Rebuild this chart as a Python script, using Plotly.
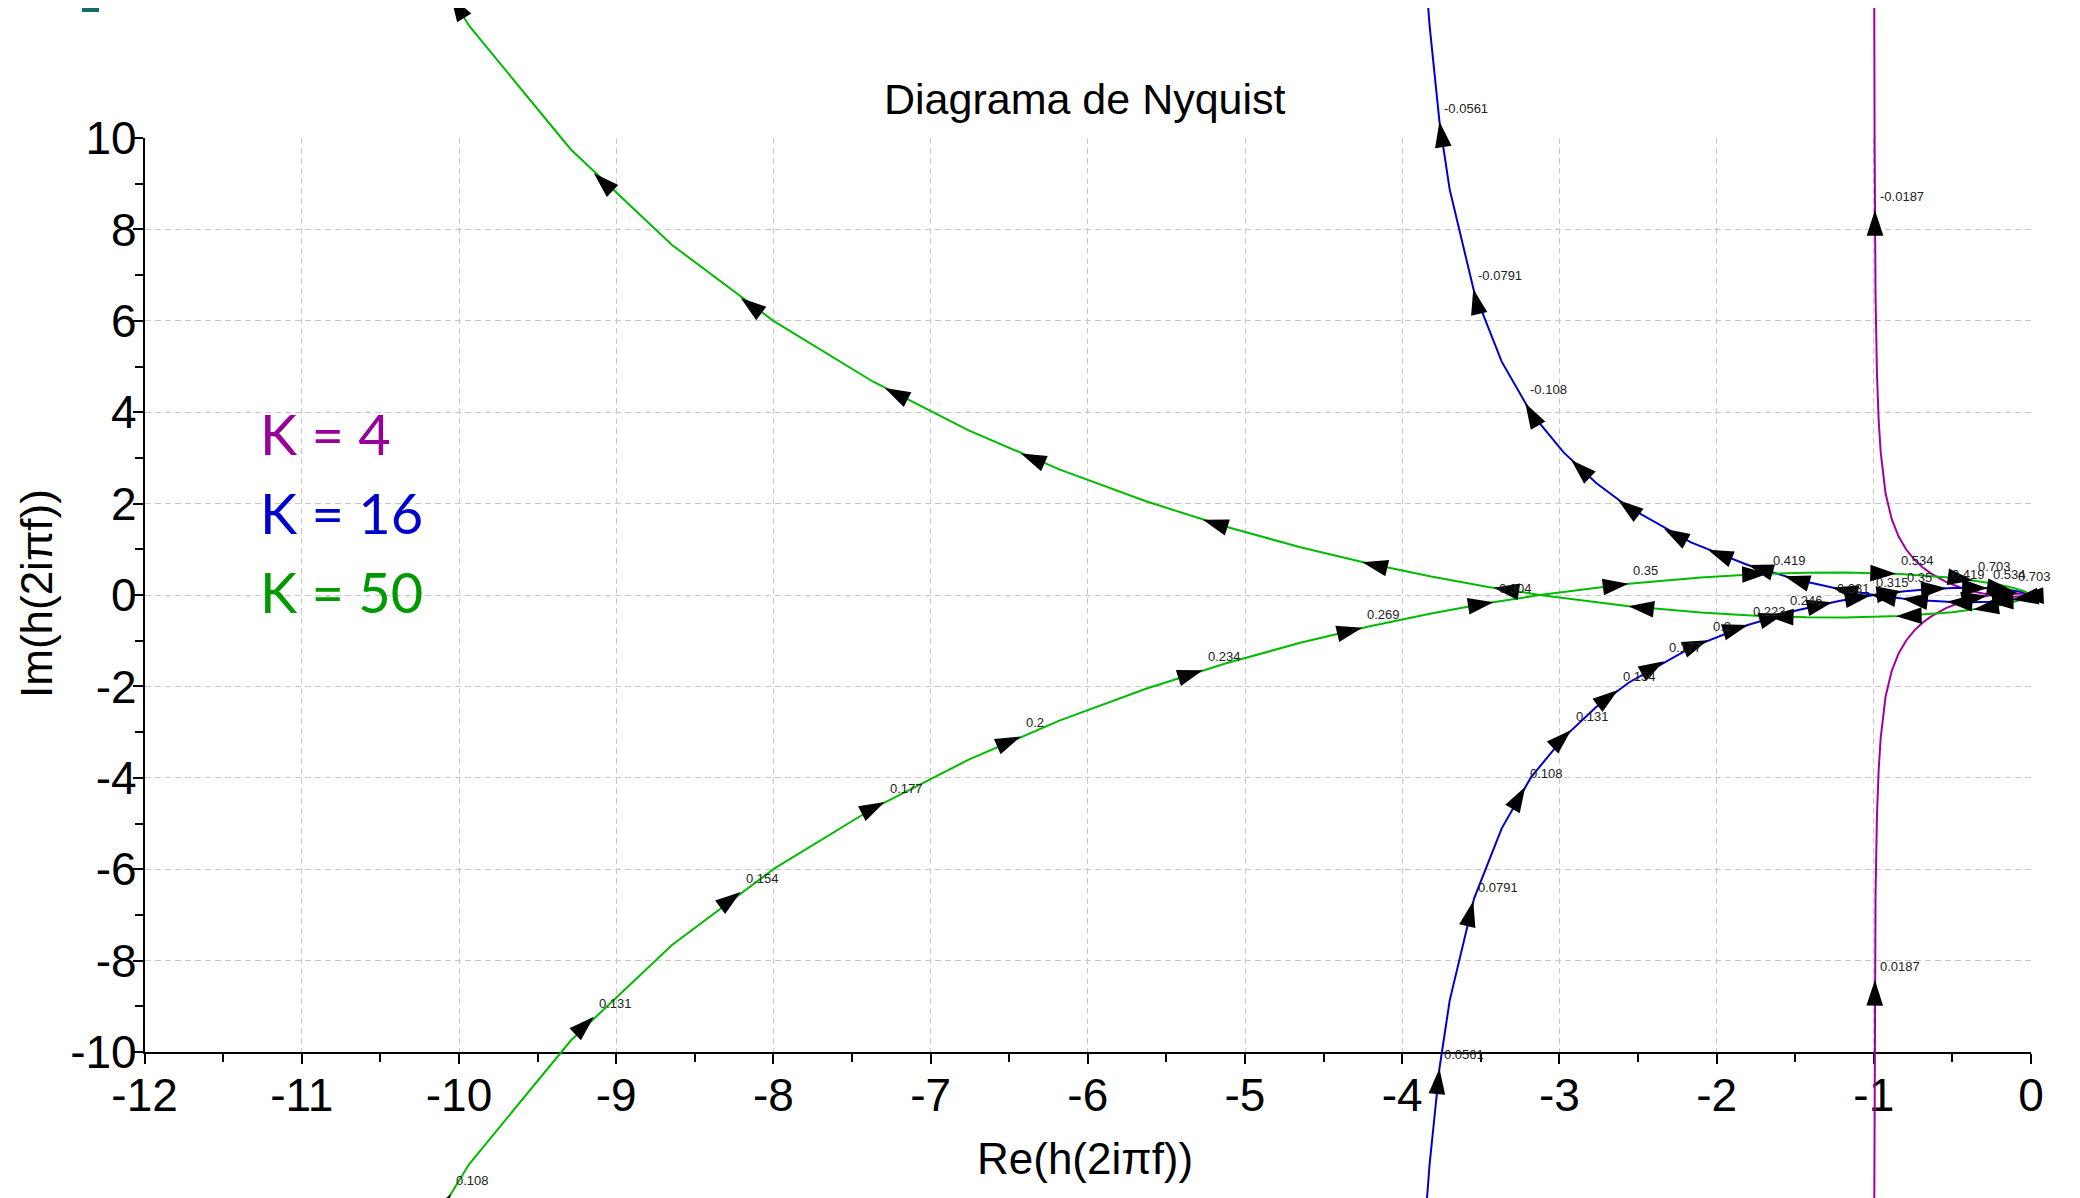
import math
import plotly.graph_objects as go

# ---------------- data ----------------
# Each curve: upper branch (f<0, from origin outward) and lower branch (f>0, from far to origin)
K4_UP_RE = [0.0, -0.002, -0.010, -0.040, -0.095, -0.168, -0.250, -0.305, -0.372, -0.450, -0.541, -0.640,
            -0.692, -0.743, -0.795, -0.842, -0.886, -0.925, -0.956, -0.969, -0.980, -0.989, -0.995, -0.998]
K4_UP_IM = [0.0, -0.004, -0.013, -0.030, -0.039, -0.031, 0.000, 0.032, 0.084, 0.164, 0.288, 0.480,
            0.613, 0.780, 1.000, 1.280, 1.660, 2.220, 3.120, 3.820, 4.850, 6.560, 9.930, 14.230]
K4_LO_RE = [-0.998, -0.995, -0.989, -0.980, -0.969, -0.956, -0.925, -0.886, -0.842, -0.795, -0.743, -0.692,
            -0.640, -0.541, -0.450, -0.372, -0.305, -0.250, -0.168, -0.095, -0.040, -0.010, -0.002, 0.0]
K4_LO_IM = [-14.230, -9.930, -6.560, -4.850, -3.820, -3.120, -2.220, -1.660, -1.280, -1.000, -0.780, -0.613,
            -0.480, -0.288, -0.164, -0.084, -0.032, 0.000, 0.031, 0.039, 0.030, 0.013, 0.004, 0.0]

K16_UP_RE = [0.0, -0.003, -0.014, -0.040, -0.076, -0.160, -0.264, -0.379, -0.502, -0.672, -0.819, -1.000,
             -1.221, -1.487, -1.802, -2.163, -2.560, -2.766, -2.973, -3.180, -3.367, -3.543, -3.698, -3.763,
             -3.826, -3.848]
K16_UP_IM = [0.0, -0.009, -0.026, -0.053, -0.080, -0.120, -0.147, -0.158, -0.153, -0.123, -0.078, 0.000,
             0.129, 0.335, 0.656, 1.153, 1.920, 2.451, 3.121, 3.986, 5.106, 6.644, 8.876, 10.360,
             12.470, 13.470]
K16_LO_RE = [-3.848, -3.826, -3.763, -3.698, -3.543, -3.367, -3.180, -2.973, -2.766, -2.560, -2.163, -1.802,
             -1.487, -1.221, -1.000, -0.819, -0.672, -0.502, -0.379, -0.264, -0.160, -0.076, -0.040, -0.014,
             -0.003, 0.0]
K16_LO_IM = [-13.470, -12.470, -10.360, -8.876, -6.644, -5.106, -3.986, -3.121, -2.451, -1.920, -1.153, -0.656,
             -0.335, -0.129, 0.000, 0.078, 0.123, 0.153, 0.158, 0.147, 0.120, 0.080, 0.053, 0.026,
             0.009, 0.0]

K50_UP_RE = [0.0, -0.009, -0.043, -0.125, -0.238, -0.500, -0.826, -1.183, -1.427, -1.727, -2.100, -2.559,
             -3.125, -3.453, -3.816, -4.213, -4.648, -5.120, -5.630, -6.177, -6.758, -7.368, -8.000, -8.645,
             -9.290, -9.936, -10.286]
K50_UP_IM = [0.0, -0.027, -0.081, -0.167, -0.250, -0.375, -0.459, -0.493, -0.489, -0.458, -0.385, -0.244,
             0.000, 0.177, 0.403, 0.688, 1.046, 1.493, 2.051, 2.744, 3.604, 4.672, 6.000, 7.660,
             9.754, 12.456, 14.426]
K50_LO_RE = [-10.286, -9.936, -9.290, -8.645, -8.000, -7.368, -6.758, -6.177, -5.630, -5.120, -4.648, -4.213,
             -3.816, -3.453, -3.125, -2.559, -2.100, -1.727, -1.427, -1.183, -0.826, -0.500, -0.238, -0.125,
             -0.043, -0.009, 0.0]
K50_LO_IM = [-14.426, -12.456, -9.754, -7.660, -6.000, -4.672, -3.604, -2.744, -2.051, -1.493, -1.046, -0.688,
             -0.403, -0.177, 0.000, 0.244, 0.385, 0.458, 0.489, 0.493, 0.459, 0.375, 0.250, 0.167,
             0.081, 0.027, 0.0]

# arrow tips (frequency marks)
K4_ARROW_RE = [-0.993, -0.280, -0.083, -0.993, -0.280, -0.083]
K4_ARROW_IM = [8.423, 0.017, -0.039, -8.423, -0.017, 0.039]
K16_ARROW_RE = [-3.763, -3.548, -3.217, -2.925, -2.627, -2.334, -2.056, -1.800, -1.568, -1.263, -1.021, -0.820,
                -0.536, -0.275, -0.117,
                -3.763, -3.548, -3.217, -2.925, -2.627, -2.334, -2.056, -1.800, -1.568, -1.263, -1.021, -0.820,
                -0.536, -0.275, -0.117]
K16_ARROW_IM = [10.360, 6.698, 4.195, 2.953, 2.079, 1.449, 0.990, 0.654, 0.409, 0.158, 0.011, -0.078,
                -0.149, -0.149, -0.102,
                -10.360, -6.698, -4.195, -2.953, -2.079, -1.449, -0.990, -0.654, -0.409, -0.158, -0.011, 0.078,
                0.149, 0.149, 0.102]
K50_ARROW_RE = [-10.052, -9.142, -8.208, -7.292, -6.426, -5.268, -4.254, -3.419, -2.561, -1.674, -0.859, -0.367,
                -10.052, -9.142, -8.208, -7.292, -6.426, -5.268, -4.254, -3.419, -2.561, -1.674, -0.859, -0.367]
K50_ARROW_IM = [13.108, 9.227, 6.497, 4.529, 3.095, 1.647, 0.719, 0.157, -0.244, -0.466, -0.465, -0.320,
                -13.108, -9.227, -6.497, -4.529, -3.095, -1.647, -0.719, -0.157, 0.244, 0.466, 0.465, 0.320]

# frequency labels
LABEL_TEXT = ["-0.0187", "0.0187",
              "-0.0561", "-0.0791", "-0.108",
              "0.0561", "0.0791", "0.108", "0.131", "0.154", "0.177", "0.2", "0.223", "0.246", "0.281",
              "0.315", "0.35", "0.419", "0.534", "0.703",
              "0.108", "0.131", "0.154", "0.177", "0.2", "0.234", "0.269", "0.304", "0.35", "0.419",
              "0.534", "0.703"]
LABEL_RE = [-0.993, -0.993,
            -3.763, -3.548, -3.217,
            -3.763, -3.548, -3.217, -2.925, -2.627, -2.334, -2.056, -1.800, -1.568, -1.263,
            -1.021, -0.820, -0.536, -0.275, -0.117,
            -10.052, -9.142, -8.208, -7.292, -6.426, -5.268, -4.254, -3.419, -2.561, -1.674,
            -0.859, -0.367]
LABEL_IM = [8.423, -8.423,
            10.360, 6.698, 4.195,
            -10.360, -6.698, -4.195, -2.953, -2.079, -1.449, -0.990, -0.654, -0.409, -0.158,
            -0.011, 0.078, 0.149, 0.149, 0.102,
            -13.108, -9.227, -6.497, -4.529, -3.095, -1.647, -0.719, -0.157, 0.244, 0.466,
            0.465, 0.320]

X_TICKS = [-12, -11, -10, -9, -8, -7, -6, -5, -4, -3, -2, -1, 0]
X_TICK_TEXT = ["-12", "-11", "-10", "-9", "-8", "-7", "-6", "-5", "-4", "-3", "-2", "-1", "0"]
Y_TICKS = [-10, -8, -6, -4, -2, 0, 2, 4, 6, 8, 10]
Y_TICK_TEXT = ["-10", "-8", "-6", "-4", "-2", "0", "2", "4", "6", "8", "10"]

LEGEND_TEXT = ["K = 4", "K = 16", "K = 50"]

# ---------------- styling / layout geometry ----------------
# the page body has an 8px margin, so the figure is 8px smaller than the window
OFF = 8
W, H = 2080 - OFF, 1198 - OFF
X0_PX, X1_PX = 144.6 - OFF, 2031.0 - OFF      # pixel of x=-12 and x=0
YT_PX, YB_PX = 138.0 - OFF, 1052.0 - OFF      # pixel of y=10 and y=-10
SX = (X1_PX - X0_PX) / 12.0
SY = (YB_PX - YT_PX) / 20.0
FULL_X = [-12 - X0_PX / SX, (W - X1_PX) / SX]
FULL_Y = [-10 - (H - YB_PX) / SY, 10 + YT_PX / SY]

LINE_COLORS = ["#A000A0", "#0000CC", "#00BB00"]
TEXT_COLORS = ["#990099", "#0000CC", "#009900"]
FONT = "Liberation Sans, Arial, sans-serif"


def px_x(p):
    return (p - OFF) / W


def px_y(p):
    return 1 - (p - OFF) / H


def arrow_angles(branches, tre, tim):
    angs = []
    for tx, ty in zip(tre, tim):
        px, py = tx * SX, ty * SY
        best = None
        for bre, bim in branches:
            for k in range(len(bre) - 1):
                ax_, ay_ = bre[k] * SX, bim[k] * SY
                bx_, by_ = bre[k + 1] * SX, bim[k + 1] * SY
                dx, dy = bx_ - ax_, by_ - ay_
                l2 = dx * dx + dy * dy
                if l2 == 0:
                    continue
                t = max(0.0, min(1.0, ((px - ax_) * dx + (py - ay_) * dy) / l2))
                d = math.hypot(ax_ + t * dx - px, ay_ + t * dy - py)
                if best is None or d < best[0]:
                    best = (d, dx, dy)
        angs.append(math.degrees(math.atan2(best[1], best[2])))
    return angs


fig = go.Figure()
# anchor trace for the framed axes
fig.add_trace(go.Scatter(x=[], y=[], xaxis="x", yaxis="y", showlegend=False, hoverinfo="skip"))

curves = [
    (K4_UP_RE, K4_UP_IM, K4_LO_RE, K4_LO_IM, K4_ARROW_RE, K4_ARROW_IM),
    (K16_UP_RE, K16_UP_IM, K16_LO_RE, K16_LO_IM, K16_ARROW_RE, K16_ARROW_IM),
    (K50_UP_RE, K50_UP_IM, K50_LO_RE, K50_LO_IM, K50_ARROW_RE, K50_ARROW_IM),
]
for i, (ure, uim, lre, lim, are, aim) in enumerate(curves):
    fig.add_trace(go.Scatter(
        x=ure + [None] + lre, y=uim + [None] + lim, mode="lines",
        line=dict(color=LINE_COLORS[i], width=2), xaxis="x2", yaxis="y2",
        showlegend=False, hoverinfo="skip"))
for i, (ure, uim, lre, lim, are, aim) in enumerate(curves):
    angs = arrow_angles([(ure, uim), (lre, lim)], are, aim)
    fig.add_trace(go.Scatter(
        x=are, y=aim, mode="markers",
        marker=dict(symbol="arrow", size=27, color="black", angle=angs, line=dict(width=0)),
        xaxis="x2", yaxis="y2", showlegend=False, hoverinfo="skip"))

annotations = []
for t, x, y in zip(LABEL_TEXT, LABEL_RE, LABEL_IM):
    annotations.append(dict(text=t, x=x, y=y, xref="x2", yref="y2", xanchor="left", yanchor="bottom",
                            xshift=3, yshift=4, showarrow=False,
                            font=dict(family=FONT, size=13, color="#222222")))

annotations.append(dict(text="Diagrama de Nyquist", x=px_x(1085), y=px_y(99.5), xref="paper", yref="paper",
                        xanchor="center", yanchor="middle", showarrow=False,
                        font=dict(family=FONT, size=43, color="black")))
annotations.append(dict(text="Re(h(2iπf))", x=px_x(1085), y=px_y(1158), xref="paper", yref="paper",
                        xanchor="center", yanchor="middle", showarrow=False,
                        font=dict(family=FONT, size=44, color="black")))
annotations.append(dict(text="Im(h(2iπf))", x=px_x(36), y=px_y(594), xref="paper", yref="paper",
                        xanchor="center", yanchor="middle", showarrow=False, textangle=-90,
                        font=dict(family=FONT, size=44, color="black")))
LEG_Y = [433, 512, 591]
for txt, yy, col in zip(LEGEND_TEXT, LEG_Y, TEXT_COLORS):
    annotations.append(dict(text=txt, x=px_x(258), y=px_y(yy), xref="paper", yref="paper",
                            xanchor="left", yanchor="middle", showarrow=False,
                            font=dict(family="Lato, sans-serif", size=56, color=col)))

grid = dict(showgrid=True, gridcolor="#C8C8C8", gridwidth=1, griddash="6px,4px")
fig.update_layout(
    width=W, height=H, margin=dict(l=0, r=0, t=0, b=0, pad=0, autoexpand=False),
    paper_bgcolor="white", plot_bgcolor="rgba(0,0,0,0)",
    showlegend=False,
    xaxis=dict(domain=[X0_PX / W, X1_PX / W], range=[-12, 0], anchor="y", automargin=False,
               tickmode="array", tickvals=X_TICKS, ticktext=X_TICK_TEXT,
               ticks="outside", ticklen=10, tickwidth=1.5, tickcolor="black", ticklabelstandoff=-8,
               showline=True, linecolor="black", linewidth=1.5, zeroline=False,
               tickfont=dict(family=FONT, size=46, color="black"),
               minor=dict(tickvals=[v + 0.5 for v in X_TICKS[:-1]], ticks="outside", ticklen=8,
                          tickwidth=1.5, tickcolor="black", showgrid=False),
               fixedrange=True, **grid),
    yaxis=dict(domain=[(H - YB_PX) / H, (H - YT_PX) / H], range=[-10, 10], anchor="x", automargin=False,
               tickmode="array", tickvals=Y_TICKS, ticktext=Y_TICK_TEXT,
               ticks="outside", ticklen=10, tickwidth=1.5, tickcolor="black", ticklabelstandoff=-13,
               showline=True, linecolor="black", linewidth=1.5, zeroline=False,
               tickfont=dict(family=FONT, size=46, color="black"),
               minor=dict(tickvals=[v + 1 for v in Y_TICKS[:-1]], ticks="outside", ticklen=8,
                          tickwidth=1.5, tickcolor="black", showgrid=False),
               fixedrange=True, **grid),
    xaxis2=dict(domain=[0, 1], range=FULL_X, anchor="y2", visible=False, fixedrange=True, automargin=False),
    yaxis2=dict(domain=[0, 1], range=FULL_Y, anchor="x2", visible=False, fixedrange=True, automargin=False),
    annotations=annotations,
    shapes=[dict(type="rect", xref="paper", yref="paper", x0=px_x(82), x1=px_x(99), y0=px_y(12), y1=1,
                 fillcolor="#0E6E6E", line=dict(width=0))],
)

fig.write_html("out.html")
